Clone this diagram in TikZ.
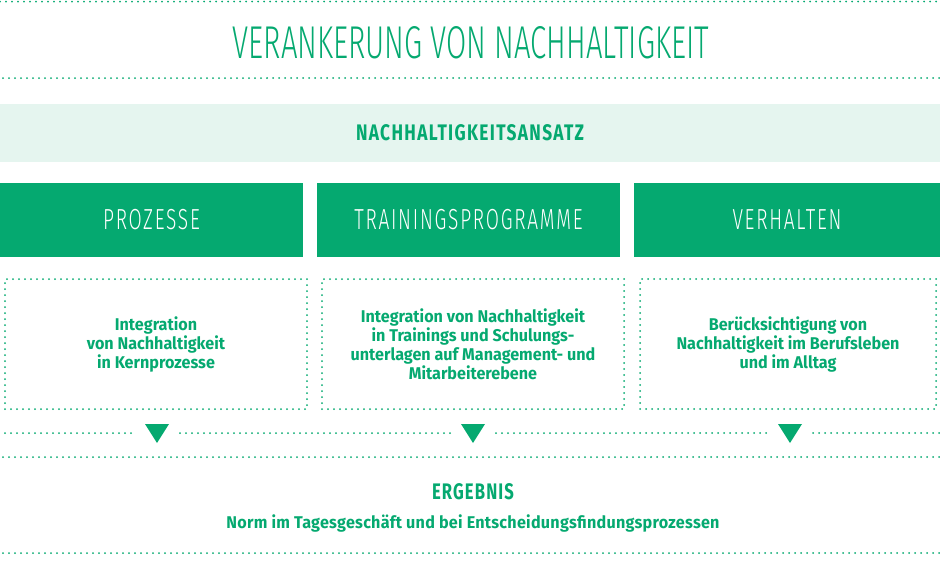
\documentclass[tikz,border=0pt]{standalone}
\usepackage{fontspec}
\setmainfont{Fira Sans}
\newfontfamily\bodyfont{Fira Sans}[FakeStretch=0.95]
\newfontfamily\normfont{Fira Sans}[FakeStretch=0.95,LetterSpace=1.5]
\newfontfamily\headfont{Fira Sans}[FakeStretch=0.77,LetterSpace=6]
\newfontfamily\ergfont{Fira Sans}[FakeStretch=0.74,LetterSpace=5]
\newfontfamily\thinfont{Fira Sans Light}[FakeStretch=0.637]
\newfontfamily\boxfont{Fira Sans Light}[FakeStretch=0.66,LetterSpace=6]
\usetikzlibrary{positioning}
\definecolor{nhgreen}{RGB}{5,169,112}
\definecolor{nhlight}{RGB}{229,245,239}
\tikzset{
  dotline/.style={draw=nhgreen,line width=2pt,dash pattern=on 0pt off 6pt,line cap=round},
  greenbox/.style={fill=nhgreen,text=white,minimum height=74pt,inner sep=0pt,font=\boxfont\fontsize{29}{29}\selectfont},
  dotbox/.style={dotline,minimum height=130pt,inner sep=0pt,text=nhgreen,align=center,font=\bodyfont\bfseries\fontsize{17}{19}\selectfont},
  headtext/.style={text=nhgreen,font=\headfont\bfseries\fontsize{22.5}{22.5}\selectfont},
}
\begin{document}
\begin{tikzpicture}[x=1pt,y=-1pt,line join=round]
\useasboundingbox (0,0) rectangle (940,560);
% title
\draw[dotline] (0,1.5) -- (940,1.5);
\node[text=nhgreen,font=\thinfont\fontsize{46}{46}\selectfont] (title) at (471,43) {VERANKERUNG VON NACHHALTIGKEIT};
\draw[dotline] (3,78) -- (940,78);
% approach
\node[fill=nhlight,minimum width=940pt,minimum height=58pt,inner sep=0pt] (band) at (470,133) {};
\node[headtext] (ansatz) at (band) {NACHHALTIGKEITSANSATZ};
% pillars
\node[greenbox,minimum width=303pt] (proz) at (151.5,220) {PROZESSE};
\node[greenbox,minimum width=303pt] (train) at (468.5,220) {TRAININGSPROGRAMME};
\node[greenbox,minimum width=306pt] (verh) at (787,220) {VERHALTEN};
\node[dotbox,minimum width=302pt] (kern) at (156,344) {Integration\\von Nachhaltigkeit\\in Kernprozesse};
\node[dotbox,minimum width=302pt] (schul) at (473,344) {Integration von Nachhaltigkeit\\in Trainings und Schulungs-\\unterlagen auf Management- und\\Mitarbeiterebene};
\node[dotbox,minimum width=296pt] (alltag) at (788,344) {Berücksichtigung von\\Nachhaltigkeit im Berufsleben\\und im Alltag};
% arrows
\foreach \n/\x in {t1/157,t2/473,t3/790}{
  \coordinate (\n) at (\x,433);
  \fill[nhgreen] (\n) ++(-12,-9) -- ++(24,0) -- ++(-12,19) -- cycle;
}
\draw[dotline] (5,433) -- ([xshift=-24pt]t1);
\draw[dotline] ([xshift=23pt]t1) -- ([xshift=-23pt]t2);
\draw[dotline] ([xshift=23pt]t2) -- ([xshift=-23pt]t3);
\draw[dotline] ([xshift=23pt]t3) -- (940,433);
\draw[dotline] (3,457) -- (940,457);
% result
\node[text=nhgreen,font=\ergfont\bfseries\fontsize{22.5}{22.5}\selectfont] (erg) at (473,492) {ERGEBNIS};
\node[text=nhgreen,font=\normfont\bfseries\fontsize{17}{17}\selectfont] (norm) at (473,523) {Norm im Tagesgeschäft und bei Entscheidungsfindungsprozessen};
\draw[dotline] (3,553) -- (940,553);
\end{tikzpicture}
\end{document}
